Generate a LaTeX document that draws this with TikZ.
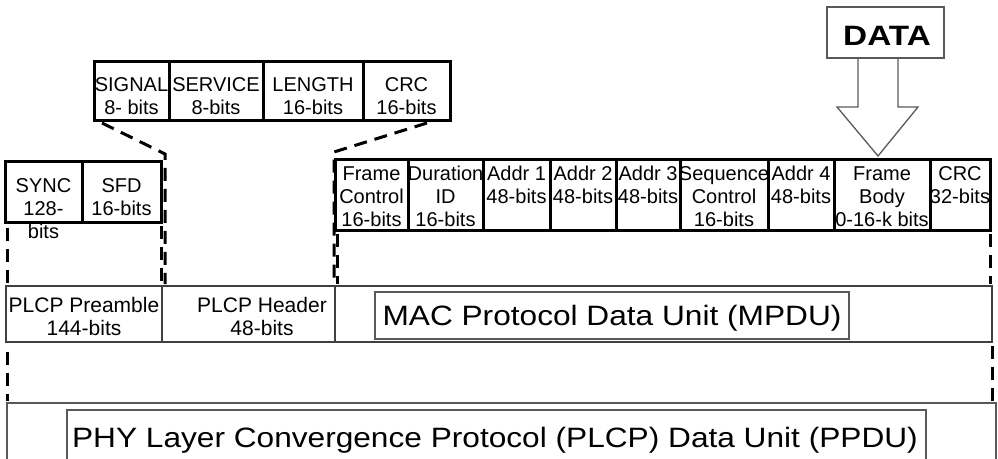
\documentclass[tikz,border=0pt]{standalone}
\usepackage{fontspec}
\usepackage{graphicx}
\setmainfont{Liberation Sans}
% stacked, centred lines whose baseline is the baseline of the first line
\newcommand{\cellstack}[1]{\begin{tabular}[t]{@{}c@{}}#1\end{tabular}}
\begin{document}
\begin{tikzpicture}[x=1pt,y=-1pt,
  fieldcell/.style={draw=black, line width=3pt, inner sep=0pt, outer sep=0pt,
                    anchor=north west, minimum height=#1},
  framebox/.style={draw=black!75, line width=1.5pt, inner sep=0pt, outer sep=0pt,
                   anchor=north west},
  dashlink/.style={draw=black, line width=3pt, dash pattern=on 13pt off 8pt},
  small/.style={font=\fontsize{20}{23}\selectfont, inner sep=0pt, anchor=base},
  rowtext/.style={font=\fontsize{21}{23}\selectfont, inner sep=0pt, anchor=base},
  big/.style={font=\fontsize{28}{32}\selectfont, inner sep=0pt, anchor=base},
]
\useasboundingbox (0,0) rectangle (998,458);
\clip (0,0) rectangle (998,458);

% ---- PLCP header fields
\foreach \nm/\xa/\w/\txt in {sig/94/75/{SIGNAL\\8- bits},
                              srv/169/94/{SERVICE\\8-bits},
                              len/263/100/{LENGTH\\16-bits},
                              hcrc/363/87/{CRC\\16-bits}}{
  \node[fieldcell=59pt, minimum width=\w pt] (\nm) at (\xa,61) {};
  \node[small] (\nm-t) at (\xa+\w/2,91) {\cellstack{\txt}};
}

% ---- PLCP preamble fields
\node[fieldcell=61pt, minimum width=77pt] (sync) at (5,161) {};
\node[small] (sync-t) at (43.5,192) {\cellstack{SYNC\\128-\\bits}};
\node[fieldcell=61pt, minimum width=79pt] (sfd) at (82,161) {};
\node[small] (sfd-t) at (121.5,192) {\cellstack{SFD\\16-bits}};

% ---- MAC frame fields
\foreach \nm/\xa/\w/\txt in {fc/335/73/{Frame\\Control\\16-bits},
                              dur/408/75/{Duration\\ID\\16-bits},
                              ad1/483/67/{Addr 1\\48-bits},
                              ad2/550/66/{Addr 2\\48-bits},
                              ad3/616/64/{Addr 3\\48-bits},
                              seq/680/88/{Sequence\\Control\\16-bits},
                              ad4/768/66/{Addr 4\\48-bits},
                              body/834/96/{Frame\\Body\\0-16-k bits},
                              fcrc/930/60/{CRC\\32-bits}}{
  \node[fieldcell=71pt, minimum width=\w pt] (\nm) at (\xa,159) {};
  \node[small] (\nm-t) at (\xa+\w/2,180) {\cellstack{\txt}};
}

% ---- PLCP row
\node[framebox, minimum width=156pt, minimum height=56pt] (pre) at (6,286) {};
\node[framebox, minimum width=173pt, minimum height=56pt] (phdr) at (162,286) {};
\node[framebox, minimum width=657pt, minimum height=56pt] (mpdu) at (335,286) {};
\node[rowtext] (pre-t) at (84,312) {\cellstack{PLCP Preamble\\144-bits}};
\node[rowtext] (phdr-t) at (262,312) {\cellstack{PLCP Header\\48-bits}};
\node[framebox, draw=black!65, minimum width=474pt, minimum height=47pt] (macbox) at (375,292) {};
\node[big] (mac-t) at (612,325) {\scalebox{1.13}[1]{MAC Protocol Data Unit (MPDU)}};

% ---- PPDU
\node[framebox, draw=black!65, minimum width=989pt, minimum height=80pt] (ppdu) at (7,403) {};
\node[framebox, draw=black!65, minimum width=859pt, minimum height=70pt] (ppduin) at (67,410) {};
\node[big] (ppdu-t) at (495,447) {\scalebox{1.13}[1]{PHY Layer Convergence Protocol (PLCP) Data Unit (PPDU)}};

% ---- DATA with hollow arrow into the frame body
\node[framebox, draw=black!65, minimum width=117pt, minimum height=51pt] (data) at (827,7) {};
\node[big, font=\fontsize{28}{32}\selectfont\bfseries] (data-t) at (887,45) {\scalebox{1.19}[1]{DATA}};
\draw[draw=black!65, line width=1.3pt, line join=miter]
  (858,58) -- (858,107) -- (837,107) -- (878,156) -- (918,107) -- (898,107) -- (898,58);

% ---- expansion links
\coordinate (hL) at (102,123);
\coordinate (hLk) at (165,154);
\coordinate (hLe) at (165,284);
\coordinate (hR) at (427,123);
\coordinate (hRk) at (334,152);
\coordinate (hRe) at (334,284);
\draw[dashlink] (hL) -- (hLk) -- (hLe);
\draw[dashlink] (hR) -- (hRk) -- (hRe);

\coordinate (sA) at (7,228);
\coordinate (sAe) at (7,284);
\coordinate (sB) at (161,226);
\coordinate (sBe) at (161,284);
\draw[dashlink] (sA) -- (sAe);
\draw[dashlink] (sB) -- (sBe);

\coordinate (mA) at (337,234);
\coordinate (mAe) at (337,284);
\coordinate (mB) at (990,234);
\coordinate (mBe) at (990,284);
\draw[dashlink] (mA) -- (mAe);
\draw[dashlink] (mB) -- (mBe);

\coordinate (pA) at (7,352);
\coordinate (pAe) at (7,401);
\coordinate (pB) at (992,346);
\coordinate (pBe) at (992,401);
\draw[dashlink] (pA) -- (pAe);
\draw[dashlink] (pB) -- (pBe);
\end{tikzpicture}
\end{document}
